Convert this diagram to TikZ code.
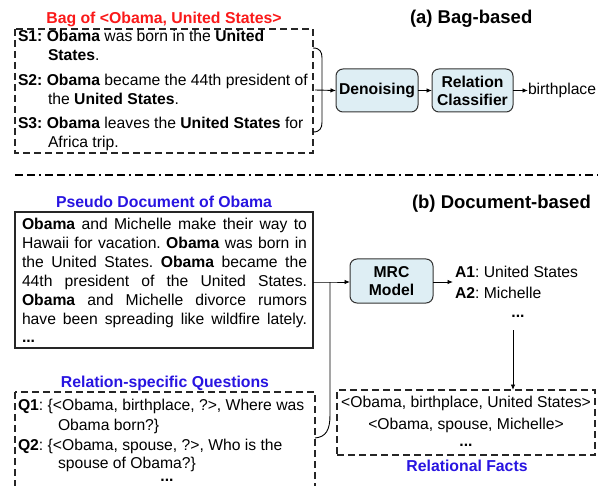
\documentclass[tikz,border=0pt]{standalone}
\usepackage{fontspec}
\setmainfont{Liberation Sans}
\usetikzlibrary{arrows.meta}
\definecolor{redlbl}{RGB}{250,25,25}
\definecolor{bluelbl}{RGB}{40,20,225}
\definecolor{boxfill}{RGB}{222,238,244}
\frenchspacing
\begin{document}
\begin{tikzpicture}[x=1pt,y=-1pt,
  every node/.style={inner sep=0pt, outer sep=0pt},
  txt/.style={font=\fontsize{15.7}{18.8}\selectfont, anchor=base west},
  ctxt/.style={font=\fontsize{15.7}{18.8}\selectfont, anchor=base},
  redlabel/.style={font=\fontsize{15.8}{19}\selectfont\bfseries, text=redlbl, anchor=base},
  bluelabel/.style={font=\fontsize{15.8}{19}\selectfont\bfseries, text=bluelbl, anchor=base},
  title/.style={font=\fontsize{18.5}{22}\selectfont\bfseries, anchor=base west},
  dbox/.style={draw=black!85, line width=1.1pt, dash pattern=on 7pt off 4pt},
  sbox/.style={draw=black!85, line width=1.1pt},
  proc/.style={draw=black!80, line width=1pt, rounded corners=7pt, fill=boxfill,
    font=\fontsize{15.7}{18}\selectfont\bfseries, align=center},
  conn/.style={line width=0.9pt},
  arr/.style={conn, -{Latex[length=5.5pt,width=4.5pt]}},
]
\useasboundingbox (0,0) rectangle (602,486);
\clip (0,0) rectangle (602,486);

% ---------- (a) Bag-based ----------
\node[redlabel] (baglbl) at (164,23.5) {Bag of <Obama, United States>};
\node[title] (ta) at (410,23.5) {(a) Bag-based};
\draw[dbox] (15,29) rectangle (313,153);
\node[txt] (s1a) at (18,41.5) {\textbf{S1:} \textbf{Obama} was born in the \textbf{United}};
\node[txt] (s1b) at (48,60.5) {\textbf{States}.};
\node[txt] (s2a) at (18,85.5) {\textbf{S2:} \textbf{Obama} became the 44th president of};
\node[txt] (s2b) at (48,104.5) {the \textbf{United States}.};
\node[txt] (s3a) at (18,128.5) {\textbf{S3:} \textbf{Obama} leaves the \textbf{United States} for};
\node[txt] (s3b) at (48,147.5) {Africa trip.};
\coordinate (bt) at (313,48);
\coordinate (bb) at (313,132);
\coordinate (bm) at (315,90);
\draw[conn] (bt) .. controls (320,48) and (322,52) .. (322,58) -- (322,122)
  .. controls (322,128) and (320,132) .. (bb);
\node[proc, minimum width=82pt, minimum height=43pt] (den) at (377,90.5) {Denoising};
\node[proc, minimum width=81pt, minimum height=43pt] (rc) at (472.5,90.5) {Relation\\Classifier};
\node[txt, anchor=west] (bp) at (528,90.5) {birthplace};
\draw[arr] (bm) -- (den.west);
\draw[arr] (den.east) -- (rc.west);
\draw[arr] (rc.east) -- (bp.west);

% ---------- separator ----------
\coordinate (sepL) at (15,175);
\coordinate (sepR) at (598,175);
\draw[line width=1.3pt, dash pattern=on 8pt off 4pt on 8pt off 4pt on 2pt off 4pt] (sepL) -- (sepR);

% ---------- (b) Document-based ----------
\node[bluelabel] (pdl) at (164,207.5) {Pseudo Document of Obama};
\node[title] (tb) at (412,208.5) {(b) Document-based};
\node[sbox, minimum width=298pt, minimum height=136pt] (doc) at (164,280) {};
\node[txt] (d1) at (22,229.5) {\makebox[285pt][s]{\textbf{Obama} and Michelle make their way to}};
\node[txt] (d2) at (22,248.5) {\makebox[285pt][s]{Hawaii for vacation. \textbf{Obama} was born in}};
\node[txt] (d3) at (22,267.5) {\makebox[285pt][s]{the United States. \textbf{Obama} became the}};
\node[txt] (d4) at (22,286.5) {\makebox[285pt][s]{44th president of the United States.}};
\node[txt] (d5) at (22,305.5) {\makebox[285pt][s]{\textbf{Obama} and Michelle divorce rumors}};
\node[txt] (d6) at (22,324.5) {\makebox[285pt][s]{have been spreading like wildfire lately.}};
\node[txt] (d7) at (22,342) {\textbf{...}};

\node[proc, minimum width=83pt, minimum height=44pt] (mrc) at (391.5,281) {MRC\\Model};
\coordinate (dj) at (313,282);
\coordinate (jn) at (330,282);
\draw[arr] (dj) -- (jn) -- (mrc.west |- jn);

\coordinate (aend) at (453,282);
\draw[arr] (mrc.east |- aend) -- (aend);
\node[txt] (a1) at (455,277.5) {\textbf{A1}: United States};
\node[txt] (a2) at (455,298.5) {\textbf{A2}: Michelle};
\node[ctxt] (adots) at (518,317) {\textbf{...}};

\node[bluelabel] (rsq) at (165,387.5) {Relation-specific Questions};
\draw[dbox] (15,392) rectangle (315,500);
\node[txt] (q1a) at (18,410.5) {\textbf{Q1}: \{<Obama, birthplace, ?>, Where was};
\node[txt] (q1b) at (58,430.5) {Obama born?\}};
\node[txt] (q2a) at (18,450.5) {\textbf{Q2}: \{<Obama, spouse, ?>, Who is the};
\node[txt] (q2b) at (58,468.5) {spouse of Obama?\}};
\node[ctxt] (qdots) at (167,481) {\textbf{...}};
\coordinate (qj) at (315,438);
\draw[conn] (qj) .. controls (326,437) and (330,430) .. (330,415) -- (jn);

\node[dbox, minimum width=258pt, minimum height=65pt] (facts) at (466,422.5) {};
\node[ctxt] (f1) at (466,407.5) {<Obama, birthplace, United States>};
\node[ctxt] (f2) at (466,429.5) {<Obama, spouse, Michelle>};
\node[ctxt] (f3) at (466,446) {\textbf{...}};
\node[bluelabel] (rf) at (467,471.5) {Relational Facts};
\coordinate (vt) at (513,330);
\draw[arr] (vt) -- (vt |- facts.north);
\end{tikzpicture}
\end{document}
